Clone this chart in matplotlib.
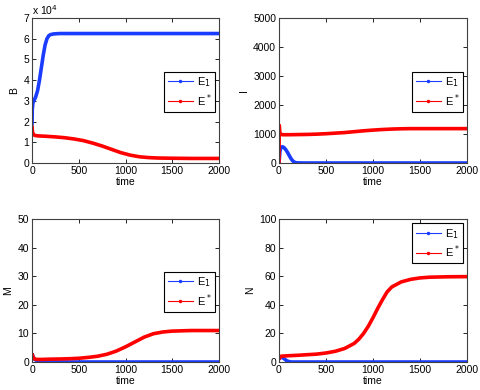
import numpy as np
import matplotlib.pyplot as plt
from matplotlib.ticker import FuncFormatter

# B panel
tB_e1 = [0, 3, 10, 20, 40, 60, 80, 100, 120, 140, 160, 180, 200, 230, 260, 300, 500, 1000, 1500, 2000]
B_e1 = [1.8e4, 2.6e4, 2.9e4, 3.0e4, 3.2e4, 3.5e4, 4.0e4, 4.6e4, 5.2e4, 5.7e4, 6.0e4, 6.15e4, 6.2e4, 6.23e4, 6.24e4, 6.25e4, 6.25e4, 6.25e4, 6.25e4, 6.25e4]
tB_es = [0, 5, 15, 30, 60, 150, 250, 350, 450, 550, 650, 750, 850, 950, 1050, 1150, 1250, 1350, 1500, 1700, 2000]
B_es = [1.8e4, 1.5e4, 1.38e4, 1.33e4, 1.31e4, 1.29e4, 1.26e4, 1.22e4, 1.16e4, 1.08e4, 0.96e4, 0.82e4, 0.66e4, 0.5e4, 0.38e4, 0.3e4, 0.26e4, 0.24e4, 0.23e4, 0.22e4, 0.22e4]

# I panel
tI_e1 = [0, 10, 20, 35, 50, 70, 90, 110, 130, 150, 170, 190, 250, 500, 1000, 1500, 2000]
I_e1 = [0, 400, 530, 560, 540, 470, 370, 250, 140, 60, 20, 5, 0, 0, 0, 0, 0]
tI_es = [0, 3, 6, 10, 20, 50, 100, 200, 300, 400, 500, 600, 700, 800, 900, 1000, 1100, 1200, 1300, 1400, 1600, 2000]
I_es = [0, 1300, 1150, 1000, 980, 975, 975, 980, 985, 995, 1010, 1030, 1050, 1080, 1110, 1135, 1155, 1170, 1180, 1185, 1185, 1185]

# M panel
tM_e1 = [0, 10, 25, 50, 80, 120, 160, 300, 1000, 2000]
M_e1 = [3.0, 2.0, 1.0, 0.5, 0.2, 0.05, 0.0, 0.0, 0.0, 0.0]
tM_es = [0, 10, 25, 50, 100, 200, 300, 400, 500, 600, 700, 800, 900, 1000, 1100, 1200, 1300, 1400, 1500, 1700, 2000]
M_es = [3.0, 1.8, 1.1, 0.9, 0.9, 1.0, 1.05, 1.15, 1.3, 1.6, 2.0, 2.7, 3.8, 5.3, 7.0, 8.7, 9.9, 10.5, 10.8, 11.0, 11.0]

# N panel
tN_e1 = [0, 20, 40, 60, 80, 100, 130, 200, 1000, 2000]
N_e1 = [2.0, 3.5, 3.0, 2.0, 1.0, 0.4, 0.0, 0.0, 0.0, 0.0]
tN_es = [0, 20, 50, 200, 400, 500, 600, 700, 800, 850, 900, 950, 1000, 1050, 1100, 1150, 1200, 1300, 1400, 1500, 1600, 1800, 2000]
N_es = [2.0, 4.0, 4.2, 4.7, 5.5, 6.3, 7.5, 9.5, 13.0, 16.0, 20.0, 25.0, 31.0, 37.5, 43.5, 49.0, 52.5, 56.0, 57.8, 58.8, 59.3, 59.6, 59.7]

panels = [
    ('B', tB_e1, B_e1, tB_es, B_es, (0, 7e4), np.arange(0, 7.1e4, 1e4), 'center right'),
    ('I', tI_e1, I_e1, tI_es, I_es, (0, 5000), np.arange(0, 5001, 1000), 'center right'),
    ('M', tM_e1, M_e1, tM_es, M_es, (0, 50), np.arange(0, 51, 10), 'center right'),
    ('N', tN_e1, N_e1, tN_es, N_es, (0, 100), np.arange(0, 101, 20), 'upper right'),
]

blue = '#1a3cff'
red = '#ff0000'
edge = '#404040'

plt.rcParams['font.family'] = ['Liberation Sans', 'DejaVu Sans']
plt.rcParams['font.size'] = 7.5

fig = plt.figure(figsize=(4.8, 3.9), dpi=100)
W, H = 480, 390
boxes = [(32, 18, 219, 163), (279, 18, 467, 163), (32, 219, 219, 362), (279, 219, 467, 362)]

for (name, t1, y1, t2, y2, ylim, yt, loc), (x0, ytop, x1, ybot) in zip(panels, boxes):
    ax = fig.add_axes([x0 / W, 1 - ybot / H, (x1 - x0) / W, (ybot - ytop) / H])
    ax.plot(t1, y1, color=blue, lw=2.6, solid_capstyle='butt')
    ax.plot(t2, y2, color=red, lw=2.6, solid_capstyle='butt')
    ax.set_xlim(0, 2000)
    ax.set_ylim(*ylim)
    ax.set_xticks([0, 500, 1000, 1500, 2000])
    ax.set_yticks(yt)
    ax.set_xlabel('time', labelpad=1)
    ax.set_ylabel(name, labelpad=3)
    ax.tick_params(direction='in', top=True, right=True, length=3, width=0.6,
                   colors='black', labelsize=7.5, pad=2)
    for s in ax.spines.values():
        s.set_color(edge)
        s.set_linewidth(0.8)
    if name == 'B':
        ax.yaxis.set_major_formatter(FuncFormatter(lambda v, p: f'{v / 1e4:g}'))
        ax.text(0.0, 1.01, r'x 10$^{4}$', transform=ax.transAxes, fontsize=7.5,
                ha='left', va='bottom')
    h1, = ax.plot([], [], color=blue, lw=0.8, marker='.', markersize=3)
    h2, = ax.plot([], [], color=red, lw=0.8, marker='.', markersize=3)
    anchor = (1.0, 0.49) if loc == 'center right' else (1.0, 1.0)
    leg = ax.legend([h1, h2], [r'E$_1$', r'E$^*$'], loc=loc, fancybox=False,
                    framealpha=1, edgecolor='black', fontsize=8, handlelength=2.3,
                    borderpad=0.3, labelspacing=0.25, handletextpad=0.3,
                    bbox_to_anchor=anchor, borderaxespad=0.4)
    leg.get_frame().set_linewidth(0.8)

fig.savefig('out.png', dpi=100)
